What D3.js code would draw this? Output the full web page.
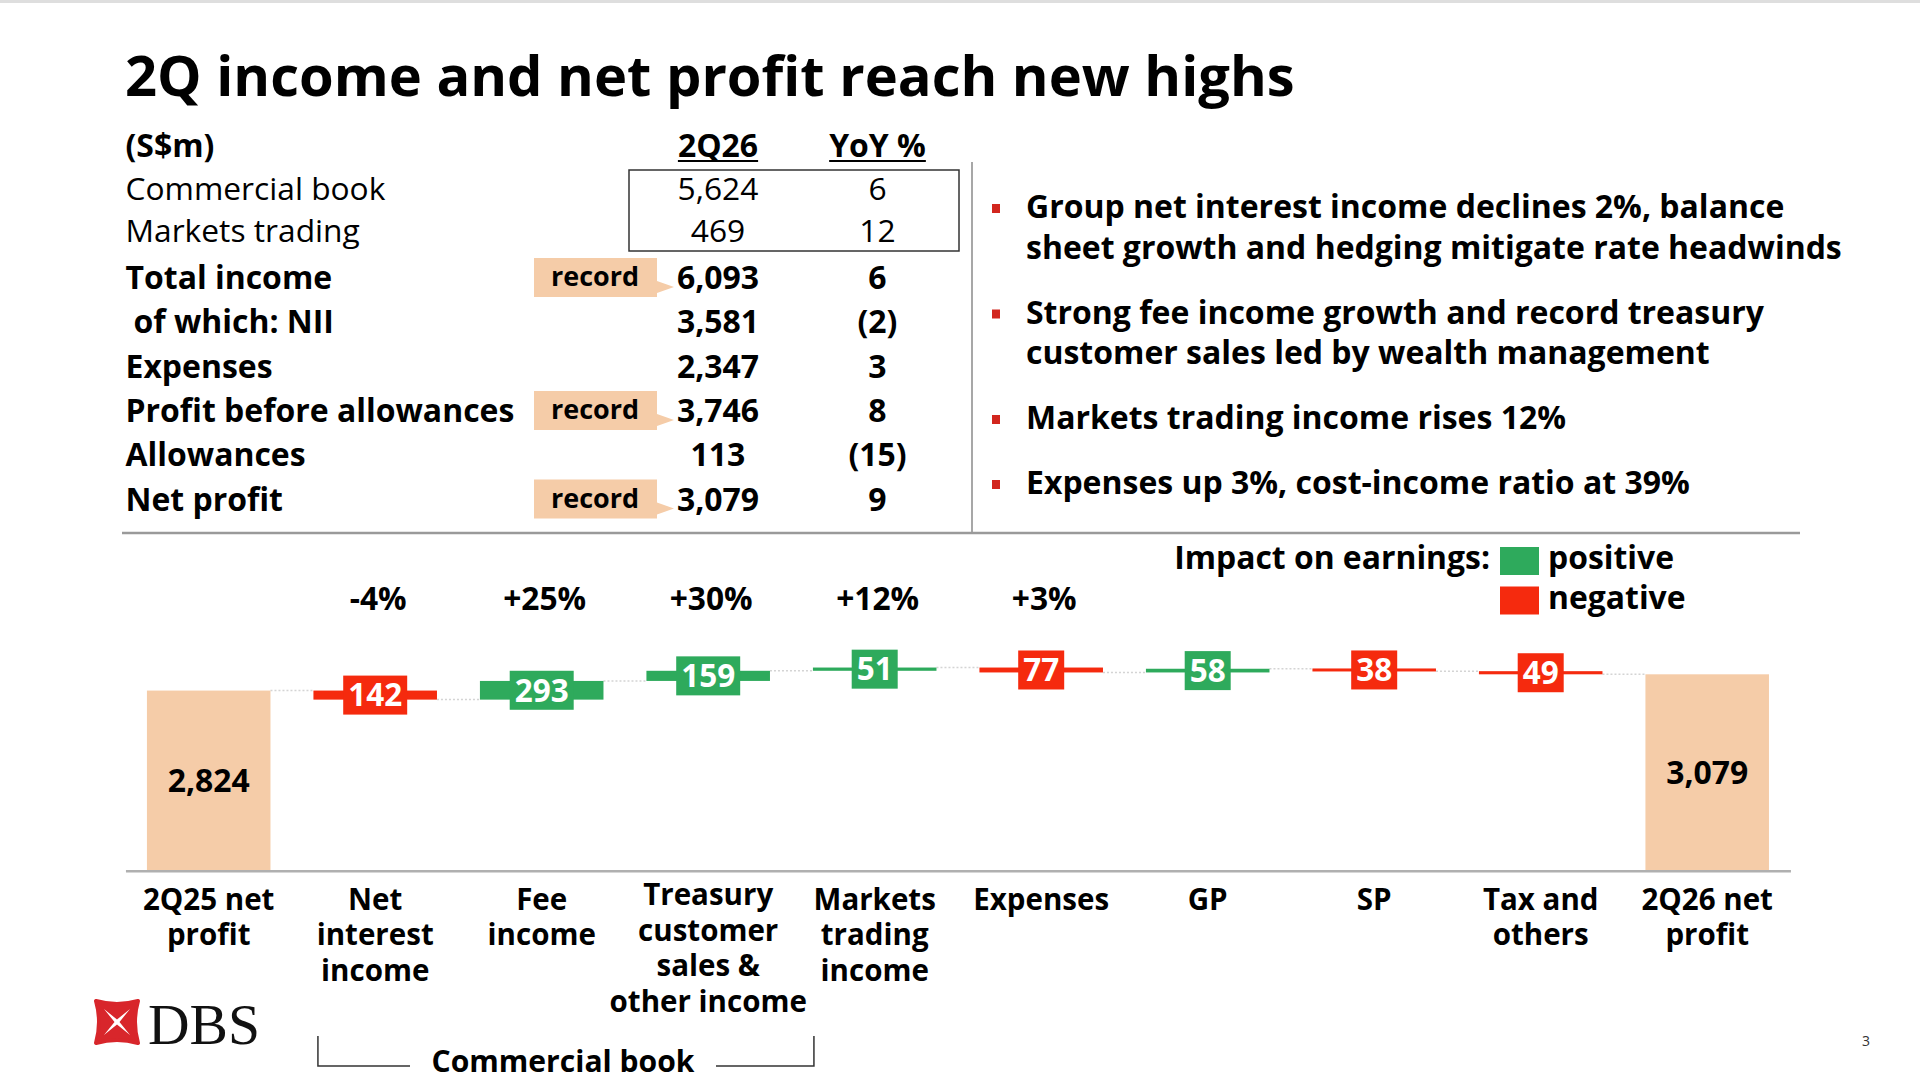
<!DOCTYPE html>
<html>
<head>
<meta charset="utf-8">
<title>2Q income and net profit reach new highs</title>
<script src="https://d3js.org/d3.v7.min.js"></script>
<style>
  body { margin: 0; background: #fff; }
  svg { display: block; font-family: "Open Sans", sans-serif; }
</style>
</head>
<body>
<div id="chart"></div>
<script>
// waterfall: 2Q25 net profit -> 2Q26 net profit (S$m)
var categories = ["2Q25 net profit", "Net interest income", "Fee income",
  "Treasury customer sales & other income", "Markets trading income",
  "Expenses", "GP", "SP", "Tax and others", "2Q26 net profit"];
var labelLines = [["2Q25 net", "profit"], ["Net", "interest", "income"], ["Fee", "income"],
  ["Treasury", "customer", "sales &", "other income"], ["Markets", "trading", "income"],
  ["Expenses"], ["GP"], ["SP"], ["Tax and", "others"], ["2Q26 net", "profit"]];
var values = [2824, -142, 293, 159, 51, -77, 58, -38, -49, 3079];
var kinds = ["total", "delta", "delta", "delta", "delta", "delta", "delta", "delta", "delta", "total"];
var yoyLabels = ["", "-4%", "+25%", "+30%", "+12%", "+3%", "", "", "", ""];

// summary table
var rowLabels = ["Commercial book", "Markets trading", "Total income", " of which: NII",
  "Expenses", "Profit before allowances", "Allowances", "Net profit"];
var rowValues = ["5,624", "469", "6,093", "3,581", "2,347", "3,746", "113", "3,079"];
var rowYoY = ["6", "12", "6", "(2)", "3", "8", "(15)", "9"];
var rowBold = [false, false, true, true, true, true, true, true];
var recordRows = ["Total income", "Profit before allowances", "Net profit"];

var bullets = [
  ["Group net interest income declines 2%, balance", "sheet growth and hedging mitigate rate headwinds"],
  ["Strong fee income growth and record treasury", "customer sales led by wealth management"],
  ["Markets trading income rises 12%"],
  ["Expenses up 3%, cost-income ratio at 39%"]
];

var PEACH = "#F5CCA8", GREEN = "#2EAA5C", RED = "#F52A0E", BULLET = "#D2261E";

var svg = d3.select("#chart").append("svg")
    .attr("width", 1920)
    .attr("height", 1084);

// font size that makes a string a given width
function fitSize(text, weight, family, target) {
  var t = svg.append("text").attr("font-family", family)
      .attr("font-weight", weight).attr("font-size", 40).text(text);
  var w = t.node().getComputedTextLength();
  t.remove();
  return 40 * target / w;
}

var OS = '"Open Sans", sans-serif';
var fsTitle = fitSize("2Q income and net profit reach new highs", 700, OS, 1170);
var fsRowB = fitSize("Profit before allowances", 700, OS, 389);
var fsRowR = fitSize("Commercial book", 400, OS, 260);
var fsBullet = fitSize(bullets[0][1], 700, OS, 816);
var fsCat = fitSize("Expenses", 700, OS, 136);
var fsPct = fitSize("+25%", 700, OS, 83);
var fsLegend = fitSize("Impact on earnings:", 700, OS, 316);
var fsTotal = fitSize("2,824", 700, OS, 82);
var fsDelta = fitSize("142", 700, OS, 54);
var fsRecord = fitSize("record", 700, OS, 88);

svg.append("rect").attr("x", 0).attr("y", 0).attr("width", 1920).attr("height", 3).attr("fill", "#dedede");

// title
svg.append("text")
    .attr("x", 125).attr("y", 96)
    .attr("font-size", fsTitle).attr("font-weight", 700)
    .text("2Q income and net profit reach new highs");

// ---- table ----
var colVal = 718, colYoY = 877.5;
var rowY = function(i) { return i < 2 ? 200 + i * 41.5 : 289 + (i - 2) * 44.3; };

svg.append("text").attr("x", 125.5).attr("y", 157)
    .attr("font-size", fsRowB).attr("font-weight", 700).text("(S$m)");
[["2Q26", colVal], ["YoY %", colYoY]].forEach(function(h) {
  var t = svg.append("text").attr("x", h[1]).attr("y", 157)
      .attr("text-anchor", "middle").attr("font-size", fsRowB).attr("font-weight", 700).text(h[0]);
  var w = t.node().getComputedTextLength();
  svg.append("line").attr("x1", h[1] - w / 2).attr("x2", h[1] + w / 2)
      .attr("y1", 161).attr("y2", 161).attr("stroke", "#000").attr("stroke-width", 2);
});

svg.append("rect").attr("x", 629).attr("y", 170).attr("width", 330).attr("height", 81)
    .attr("fill", "none").attr("stroke", "#333").attr("stroke-width", 1.5);

rowLabels.forEach(function(lab, i) {
  var y = rowY(i);
  var fs = rowBold[i] ? fsRowB : fsRowR, fw = rowBold[i] ? 700 : 400;
  var indent = lab.charAt(0) === " " ? 8 : 0;
  if (recordRows.indexOf(lab) >= 0) {
    svg.append("path")
        .attr("d", "M534," + (y - 31) + "H657V" + (y - 8) + "L674," + (y - 2) + "L657," + (y + 4) +
              "V" + (y + 8) + "H534Z")
        .attr("fill", PEACH);
    svg.append("text").attr("x", 595).attr("y", y - 3).attr("text-anchor", "middle")
        .attr("font-size", fsRecord).attr("font-weight", 700).text("record");
  }
  svg.append("text").attr("x", 125.5 + indent).attr("y", y)
      .attr("font-size", fs).attr("font-weight", fw).text(lab.trim());
  svg.append("text").attr("x", colVal).attr("y", y).attr("text-anchor", "middle")
      .attr("font-size", fs).attr("font-weight", fw).text(rowValues[i]);
  svg.append("text").attr("x", colYoY).attr("y", y).attr("text-anchor", "middle")
      .attr("font-size", fs).attr("font-weight", fw).text(rowYoY[i]);
});

svg.append("line").attr("x1", 972).attr("x2", 972).attr("y1", 162).attr("y2", 533)
    .attr("stroke", "#8a8a8a").attr("stroke-width", 1.5);
svg.append("line").attr("x1", 122).attr("x2", 1800).attr("y1", 533).attr("y2", 533)
    .attr("stroke", "#9a9a9a").attr("stroke-width", 2.5);

// ---- bullets ----
var by = 218;
bullets.forEach(function(lines) {
  svg.append("rect").attr("x", 992).attr("y", by - 14).attr("width", 8).attr("height", 9).attr("fill", BULLET);
  lines.forEach(function(l, j) {
    svg.append("text").attr("x", 1026).attr("y", by + j * 40.5)
        .attr("font-size", fsBullet).attr("font-weight", 700).text(l);
  });
  by += lines.length * 40.5 + 24.5;
});

// ---- waterfall ----
var x = d3.scaleBand().domain(categories).range([125.45, 1790.45])
    .paddingInner(0.258).paddingOuter(0.129);
var y = d3.scaleLinear().domain([0, 3079]).range([870.7, 674.3]);

var running = 0;
var steps = categories.map(function(c, i) {
  var s, e;
  if (kinds[i] === "total") { s = 0; e = values[i]; }
  else { s = running; e = running + values[i]; }
  running = e;
  return { cat: c, start: s, end: e, value: values[i], kind: kinds[i], yoy: yoyLabels[i] };
});

var bw = x.bandwidth();

// faint connectors
var conn = svg.append("g");
steps.slice(0, -1).forEach(function(d, i) {
  conn.append("line")
      .attr("x1", x(d.cat) + bw).attr("x2", x(steps[i + 1].cat))
      .attr("y1", y(d.end)).attr("y2", y(d.end))
      .attr("stroke", "#d4d4d4").attr("stroke-width", 1.5).attr("stroke-dasharray", "2,2");
});

var barColor = function(d) { return d.kind === "total" ? PEACH : (d.value >= 0 ? GREEN : RED); };

var bars = svg.append("g").selectAll("g").data(steps).enter().append("g");
bars.append("rect")
    .attr("x", function(d) { return x(d.cat); })
    .attr("width", bw)
    .attr("y", function(d) {
      var top = y(Math.max(d.start, d.end)), h = Math.abs(y(d.start) - y(d.end));
      return h < 3 ? (top + h / 2 - 1.5) : top;
    })
    .attr("height", function(d) { return Math.max(3, Math.abs(y(d.start) - y(d.end))); })
    .attr("fill", barColor);

// totals label inside bar
bars.filter(function(d) { return d.kind === "total"; }).append("text")
    .attr("x", function(d) { return x(d.cat) + bw / 2; })
    .attr("y", function(d) { return (y(d.end) + y(0)) / 2; })
    .attr("dy", "0.36em")
    .attr("text-anchor", "middle").attr("font-size", fsTotal).attr("font-weight", 700)
    .text(function(d) { return d3.format(",")(d.value); });

// delta value boxes
bars.filter(function(d) { return d.kind === "delta"; }).each(function(d) {
  var g = d3.select(this);
  var cx = x(d.cat) + bw / 2, cy = (y(d.start) + y(d.end)) / 2;
  var box = g.append("rect").attr("fill", barColor(d));
  var t = g.append("text").attr("x", cx).attr("y", cy).attr("dy", "0.36em")
      .attr("text-anchor", "middle").attr("font-size", fsDelta).attr("font-weight", 700)
      .attr("fill", "#fff").text(Math.abs(d.value));
  var w = t.node().getComputedTextLength() + 10;
  box.attr("x", cx - w / 2).attr("y", cy - 19.5).attr("width", w).attr("height", 39);
});

// YoY percent labels
bars.filter(function(d) { return d.yoy; }).append("text")
    .attr("x", function(d) { return x(d.cat) + bw / 2 + 3; })
    .attr("y", 610)
    .attr("text-anchor", "middle").attr("font-size", fsPct).attr("font-weight", 700)
    .text(function(d) { return d.yoy; });

// axis with multi-line category labels
var axis = svg.append("g").attr("transform", "translate(0,870.7)")
    .call(d3.axisBottom(x).tickSize(0).tickSizeOuter(0).tickFormat(""));
axis.select(".domain").attr("stroke", "#b0b0b0").attr("stroke-width", 2.5);
axis.selectAll(".tick").each(function(d, i) {
  var lines = labelLines[i];
  var t = d3.select(this).append("text")
      .attr("fill", "#000").attr("font-family", OS).attr("font-size", fsCat).attr("font-weight", 700)
      .attr("text-anchor", "middle");
  var y0 = lines.length === 4 ? 34.5 : 39.3;
  lines.forEach(function(l, j) {
    t.append("tspan").attr("x", 0).attr("y", y0 + j * 35.5).text(l);
  });
});

// legend
svg.append("text").attr("x", 1490).attr("y", 569).attr("text-anchor", "end")
    .attr("font-size", fsLegend).attr("font-weight", 700).text("Impact on earnings:");
[["positive", GREEN], ["negative", RED]].forEach(function(l, i) {
  var ly = 569 + i * 39.5;
  svg.append("rect").attr("x", 1500).attr("y", ly - 22).attr("width", 39).attr("height", 28).attr("fill", l[1]);
  svg.append("text").attr("x", 1548).attr("y", ly)
      .attr("font-size", fsLegend).attr("font-weight", 700).text(l[0]);
});

// commercial book bracket
var bl = x("Net interest income") + 4.5, br = x("Markets trading income") + 1;
svg.append("path")
    .attr("d", "M" + bl + ",1036V1066H410M716,1066H" + br + "V1036")
    .attr("fill", "none").attr("stroke", "#333").attr("stroke-width", 1.5);
svg.append("text").attr("x", 563).attr("y", 1072).attr("text-anchor", "middle")
    .attr("font-size", fitSize("Commercial book", 700, OS, 263)).attr("font-weight", 700)
    .text("Commercial book");

// DBS logo
var logo = svg.append("g").attr("transform", "translate(93,998)");
logo.append("path")
    .attr("d", "M3,3Q24,9 45,3Q39,24 45,45Q24,39 3,45Q9,24 3,3Z")
    .attr("fill", "#D8262B").attr("stroke", "#D8262B").attr("stroke-width", 4).attr("stroke-linejoin", "round");
logo.append("path")
    .attr("d", "M11,11L24,21.5L37,11L26.5,24L37,37L24,26.5L11,37L21.5,24Z")
    .attr("fill", "#fff");
var serif = '"Liberation Serif", "DejaVu Serif", serif';
svg.append("text").attr("x", 148).attr("y", 1043.5)
    .attr("font-family", serif).attr("font-size", fitSize("DBS", 400, serif, 112))
    .attr("fill", "#111").text("DBS");

// page number
svg.append("text").attr("x", 1866).attr("y", 1046).attr("text-anchor", "middle")
    .attr("font-size", 14).attr("fill", "#333").text("3");
</script>
</body>
</html>
